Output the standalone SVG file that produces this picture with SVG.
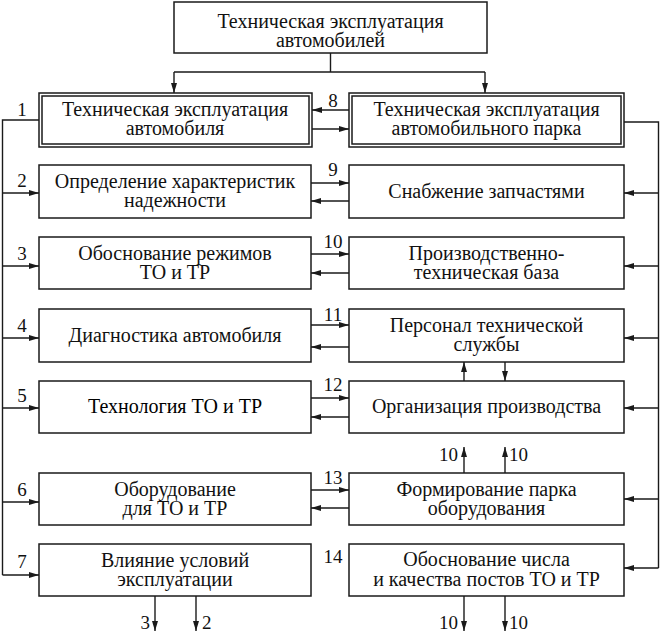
<svg xmlns="http://www.w3.org/2000/svg" width="661" height="634" viewBox="0 0 661 634">
<style>
.b{fill:#fff;stroke:#1a1a1a;stroke-width:1.5}
.t{font-family:"Liberation Serif","Times New Roman",serif;font-size:20px;fill:#111;text-anchor:middle}
.n{font-family:"Liberation Serif","Times New Roman",serif;font-size:19px;fill:#111}
.c{fill:none;stroke:#1a1a1a;stroke-width:1.4}
.a{fill:none;stroke:#1a1a1a;stroke-width:1.4;marker-end:url(#ah)}
</style>
<defs>
<marker id="ah" viewBox="0 0 10 6" refX="10" refY="3" markerWidth="10" markerHeight="6" markerUnits="userSpaceOnUse" orient="auto">
<path d="M0,0 L10,3 L0,6 z" fill="#1a1a1a"/>
</marker>
</defs>
<rect width="661" height="634" fill="#fff"/>

<g id="n0"><rect class="b" x="174" y="2" width="313" height="51"/>
<text class="t" x="330.5" y="28">Техническая эксплуатация</text>
<text class="t" x="330.5" y="47">автомобилей</text></g>

<g id="n1"><rect class="b" x="39" y="93" width="273" height="54"/><rect class="b" x="42" y="96" width="267" height="48"/>
<text class="t" x="175" y="116">Техническая эксплуатация</text>
<text class="t" x="175" y="135">автомобиля</text></g>

<g id="n8"><rect class="b" x="349" y="93" width="275" height="54"/><rect class="b" x="352" y="96" width="269" height="48"/>
<text class="t" x="486.5" y="116">Техническая эксплуатация</text>
<text class="t" x="486.5" y="135">автомобильного парка</text></g>

<g id="n2"><rect class="b" x="39" y="165" width="272" height="53"/>
<text class="t" x="175" y="188">Определение характеристик</text>
<text class="t" x="175" y="207">надежности</text></g>
<g id="n9"><rect class="b" x="349" y="165" width="275" height="53"/>
<text class="t" x="486.5" y="198">Снабжение запчастями</text></g>

<g id="n3"><rect class="b" x="39" y="237" width="272" height="52"/>
<text class="t" x="175" y="260">Обоснование режимов</text>
<text class="t" x="175" y="279">ТО и ТР</text></g>
<g id="n10"><rect class="b" x="349" y="237" width="275" height="52"/>
<text class="t" x="486.5" y="260">Производственно-</text>
<text class="t" x="486.5" y="279">техническая база</text></g>

<g id="n4"><rect class="b" x="39" y="309" width="272" height="53"/>
<text class="t" x="175" y="342">Диагностика автомобиля</text></g>
<g id="n11"><rect class="b" x="349" y="309" width="275" height="53"/>
<text class="t" x="486.5" y="332">Персонал технической</text>
<text class="t" x="486.5" y="351">службы</text></g>

<g id="n5"><rect class="b" x="39" y="381" width="272" height="52"/>
<text class="t" x="175" y="413" style="fill:#000">Технология ТО и ТР</text></g>
<g id="n12"><rect class="b" x="349" y="381" width="275" height="52"/>
<text class="t" x="486.5" y="413">Организация производства</text></g>

<g id="n6"><rect class="b" x="39" y="473" width="272" height="52"/>
<text class="t" x="175" y="496">Оборудование</text>
<text class="t" x="175" y="515">для ТО и ТР</text></g>
<g id="n13"><rect class="b" x="349" y="473" width="275" height="52"/>
<text class="t" x="486.5" y="496">Формирование парка</text>
<text class="t" x="486.5" y="515">оборудования</text></g>

<g id="n7"><rect class="b" x="39" y="544" width="272" height="52"/>
<text class="t" x="175" y="567">Влияние условий</text>
<text class="t" x="175" y="586">эксплуатации</text></g>
<g id="n14"><rect class="b" x="349" y="544" width="275" height="52"/>
<text class="t" x="486.5" y="566">Обоснование числа</text>
<text class="t" x="486.5" y="586">и качества постов ТО и ТР</text></g>

<g id="connectors">
<path class="c" d="M330.5,53 V72 M174,72 H485"/>
<path class="a" d="M174,72 V93"/>
<path class="a" d="M485,72 V93"/>

<path class="a" d="M349,110 H312"/>
<path class="a" d="M312,129 H349"/>
<path class="a" d="M311,183 H349"/>
<path class="a" d="M349,201 H311"/>
<path class="a" d="M311,254 H349"/>
<path class="a" d="M349,273 H311"/>
<path class="a" d="M311,325 H349"/>
<path class="a" d="M349,347 H311"/>
<path class="a" d="M311,398 H349"/>
<path class="a" d="M349,417 H311"/>
<path class="a" d="M311,490 H349"/>
<path class="a" d="M349,508 H311"/>

<path class="c" d="M39,120 H2.5 V575"/>
<path class="a" d="M2.5,193 H39"/>
<path class="a" d="M2.5,266 H39"/>
<path class="a" d="M2.5,338 H39"/>
<path class="a" d="M2.5,408 H39"/>
<path class="a" d="M2.5,502 H39"/>
<path class="a" d="M2.5,575 H39"/>

<path class="c" d="M624,122 H658.5 V568"/>
<path class="a" d="M658.5,193 H624"/>
<path class="a" d="M658.5,266 H624"/>
<path class="a" d="M658.5,338 H624"/>
<path class="a" d="M658.5,408 H624"/>
<path class="a" d="M658.5,499 H624"/>
<path class="a" d="M658.5,568 H624"/>

<path class="a" d="M464,381 V362"/>
<path class="a" d="M505,362 V381"/>
<path class="a" d="M464,473 V447"/>
<path class="a" d="M505,473 V447"/>
<path class="a" d="M464,596 V631"/>
<path class="a" d="M505,596 V631"/>
<path class="a" d="M155,596 V631"/>
<path class="a" d="M196,596 V631"/>

<text class="n" x="22" y="116" text-anchor="middle">1</text>
<text class="n" x="22" y="187" text-anchor="middle">2</text>
<text class="n" x="22" y="260" text-anchor="middle">3</text>
<text class="n" x="22" y="332" text-anchor="middle">4</text>
<text class="n" x="22" y="402" text-anchor="middle">5</text>
<text class="n" x="22" y="496" text-anchor="middle">6</text>
<text class="n" x="22" y="568" text-anchor="middle">7</text>
<text class="n" x="333" y="107" text-anchor="middle">8</text>
<text class="n" x="333" y="176" text-anchor="middle">9</text>
<text class="n" x="333" y="248" text-anchor="middle">10</text>
<text class="n" x="333" y="321" text-anchor="middle">11</text>
<text class="n" x="333" y="391" text-anchor="middle">12</text>
<text class="n" x="333" y="484" text-anchor="middle">13</text>
<text class="n" x="333" y="563" text-anchor="middle">14</text>
<text class="n" x="458" y="461" text-anchor="end">10</text>
<text class="n" x="509" y="461">10</text>
<text class="n" x="458" y="629" text-anchor="end">10</text>
<text class="n" x="509" y="629">10</text>
<text class="n" x="150" y="629" text-anchor="end">3</text>
<text class="n" x="202" y="629">2</text>
</g>
</svg>
